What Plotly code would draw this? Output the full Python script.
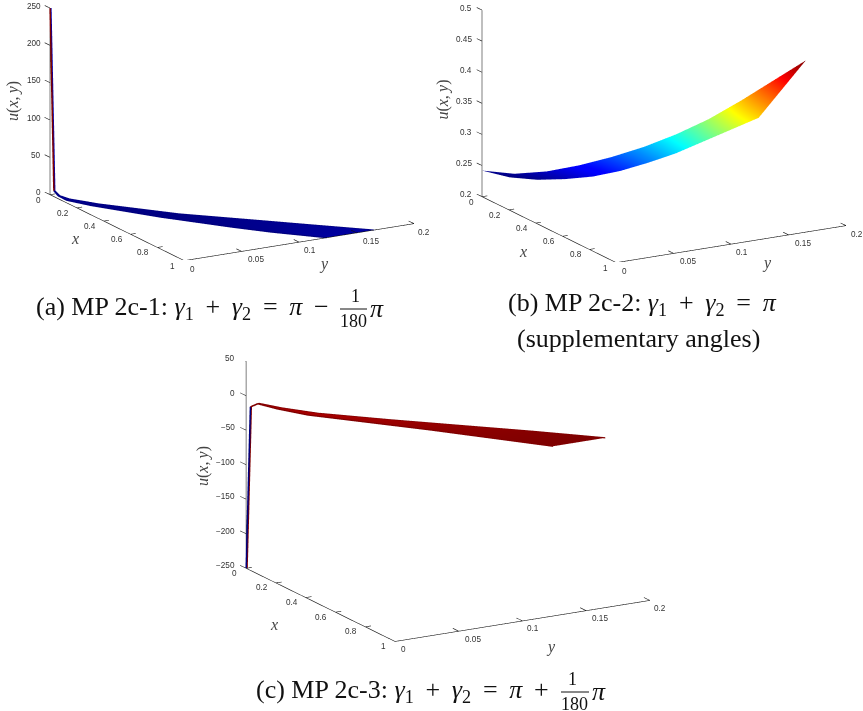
import plotly.graph_objects as go

W, H = 863, 711
JET = [[0, "#00007f"], [0.11, "#0000ff"], [0.125, "#0000ff"], [0.375, "#00ffff"], [0.625, "#ffff00"], [0.875, "#ff0000"], [1, "#7f0000"]]
SER = "Liberation Serif"; SAN = "Liberation Sans"

# --- data ---
x_ticks = [0, 0.2, 0.4, 0.6, 0.8, 1]
y_ticks = [0, 0.05, 0.1, 0.15, 0.2]
y_tick_labels = ["0", "0.05", "0.1", "0.15", "0.2"]

a_x = [0.014, 0.03, 0.06, 0.15, 0.4, 0.66, 0.8, 1.0]
a_ylo = [0.0017, 0.0037, 0.0074, 0.0186, 0.0496, 0.0818, 0.0992, 0.124]
a_yhi = [0.0024, 0.0049, 0.0099, 0.0248, 0.0662, 0.1092, 0.1324, 0.165]
a_zlo = [6, 0, -4, -6, -7, -5.5, -4, 0]
a_zhi = [6, 0, -3, -5.4, -7, -4, -2.5, 0]
a_spike_x = [0, 0.014]
a_spike_z = [250, 6]
a_zticks = [0, 50, 100, 150, 200, 250]

b_x = [0, 0.1, 0.2, 0.3, 0.4, 0.5, 0.6, 0.7, 0.8, 0.9, 1.0]
b_ylo = [0, 0.0124, 0.0248, 0.0372, 0.0496, 0.062, 0.0744, 0.0868, 0.0992, 0.1116, 0.124]
b_yhi = [0, 0.0165, 0.033, 0.0495, 0.066, 0.0825, 0.099, 0.1155, 0.132, 0.1485, 0.165]
b_zlo = [0.242, 0.238, 0.241, 0.249, 0.26, 0.276, 0.296, 0.318, 0.344, 0.37, 0.396]
b_zhi = [0.242, 0.2425, 0.252, 0.2675, 0.2865, 0.3085, 0.3345, 0.3645, 0.4, 0.438, 0.476]
b_zticks = [0.2, 0.25, 0.3, 0.35, 0.4, 0.45, 0.5]

c_x = [0.014, 0.036, 0.1, 0.2, 0.4, 0.6, 0.8, 1.0]
c_ylo = [0.0017, 0.0045, 0.0124, 0.0248, 0.0496, 0.0744, 0.0992, 0.124]
c_yhi = [0.0024, 0.0059, 0.0165, 0.033, 0.066, 0.099, 0.132, 0.165]
c_zlo = [-15, -9, -12, -14, -11, -8, -6, -4]
c_zhi = [-15, -9, -12, -14, -12, -9, -6, -4]
c_spike_x = [0, 0.014]
c_spike_z = [-250, -15]
c_zticks = [-250, -200, -150, -100, -50, 0, 50]
c_ztick_labels = ["\u2212250", "\u2212200", "\u2212150", "\u2212100", "\u221250", "0", "50"]

EYE = (0.833, -0.477, 0.2815)
D = 4.0
AS = 2.11

fig = go.Figure()
annots = {"scene": [], "scene2": [], "scene3": []}
LINE = dict(color="#111111", width=1.2)
ZLINE = dict(color="#555555", width=1.6)


def txt(text, x, y, z, dx, dy, size=8.2, font=SAN, color="#333333", angle=0, anchor="center"):
    return dict(x=x, y=y, z=z, text=text, showarrow=False, xshift=dx, yshift=dy, textangle=angle,
                font=dict(family=font, size=size, color=color), xanchor=anchor, yanchor="middle")


def panel(scene, zr, zticks, zlabels, xs, ylo, yhi, zlo, zhi, cmin, cmax, spike, xlab, ylab, ulab, zdx, edge=None):
    z0, z1 = zr
    zspan = z1 - z0
    fig.add_trace(go.Surface(x=[xs, xs], y=[ylo, yhi], z=[zlo, zhi], surfacecolor=[zlo, zhi], colorscale=JET, cmin=cmin, cmax=cmax,
                             showscale=False, scene=scene, hoverinfo="skip",
                             lighting=dict(ambient=1, diffuse=0, specular=0, fresnel=0, roughness=1)))
    if edge:
        for yy, zz in ((ylo, zlo), (yhi, zhi)):
            fig.add_trace(go.Scatter3d(x=xs, y=yy, z=zz, mode="lines", line=dict(color=edge, width=2.5),
                                       scene=scene, hoverinfo="skip", showlegend=False))
    if spike:
        sx, sz, near, far = spike
        fig.add_trace(go.Scatter3d(x=sx, y=[0, ylo[0]], z=sz, mode="lines", line=dict(color=near, width=3),
                                   scene=scene, hoverinfo="skip", showlegend=False))
        fig.add_trace(go.Scatter3d(x=sx, y=[0.0007, yhi[0]], z=sz, mode="lines", line=dict(color=far, width=3),
                                   scene=scene, hoverinfo="skip", showlegend=False))

    def seg(xx, yy, zz, ln=LINE):
        fig.add_trace(go.Scatter3d(x=xx, y=yy, z=zz, mode="lines", line=ln, scene=scene, hoverinfo="skip", showlegend=False))
    seg([0, 1, 1], [0, 0, 0.2], [z0, z0, z0])
    seg([0, 0], [0, 0], [z0, z1], ZLINE)
    tk = 0.04
    for t in x_ticks:
        seg([t, t], [0, 0.0045], [z0, z0])
    for t in y_ticks:
        seg([1, 1 - tk], [t, t], [z0, z0])
    for t in zticks:
        seg([0, -tk], [0, 0], [t, t])
    A = annots[scene]
    for t in x_ticks:
        s = str(t)
        A.append(txt(s, t, 0, z0, -13.5 if len(s) > 1 else -11, -5.5))
    for t, l in zip(y_ticks, y_tick_labels):
        A.append(txt(l, 1, t, z0, {1: 8.5, 3: 11, 4: 14.5}[len(l)], -8.5))
    for t, l in zip(zticks, zlabels):
        A.append(txt(l, 0, 0, t, zdx, 2, anchor="right"))
    A.append(txt("<i>x</i>", 0.5, 0, z0, xlab[0], -xlab[1], size=16, font=SER, color="#444444"))
    A.append(txt("<i>y</i>", 1, 0.1, z0, ylab[0], -ylab[1], size=16, font=SER, color="#444444"))
    A.append(txt("<i>u</i>(<i>x</i>,\u2009<i>y</i>)", 0, 0, z0 + ulab[0] * zspan, ulab[1], 0, size=16, font=SER, color="#444444", angle=-90))


panel("scene", (0, 250), a_zticks, [str(v) for v in a_zticks], a_x, a_ylo, a_yhi, a_zlo, a_zhi, -8, 250,
      (a_spike_x, a_spike_z, "#7f0000", "#0000b0"), (-41.5, 11), (25, 22), (0.504, -37.3), -7, edge="#00007f")
panel("scene2", (0.2, 0.5), b_zticks, [str(v) for v in b_zticks], b_x, b_ylo, b_yhi, b_zlo, b_zhi, 0.238, 0.476, None,
      (-26, 22), (36, 19), (0.519, -39.3), -8)
panel("scene3", (-250, 50), c_zticks, c_ztick_labels, c_x, c_ylo, c_yhi, c_zlo, c_zhi, -250, -4,
      (c_spike_x, c_spike_z, "#00007f", "#7f0000"), (-46, 20), (29, 27), (0.49, -42), -9, edge="#7f0000")


def scene_layout(O, xv, yv, zv, zr, box, annot, padlo=0.293, padhi=0.12):
    """O: pixel of (0,0,zr[0]); xv/yv/zv: pixel vectors of whole axes; box: domain pixel w,h."""
    xr = (-0.1, 1.1)
    yr = (-0.02, 0.22)
    span = zr[1] - zr[0]
    zrr = (zr[0] - padlo * span, zr[1] + padhi * span)
    fx = (sum(xr) / 2)
    fy = (sum(yr) / 2) / 0.2
    fz = (sum(zrr) / 2 - zr[0]) / span
    cx = O[0] + fx * xv[0] + fy * yv[0] + fz * zv[0]
    cy = O[1] + fx * xv[1] + fy * yv[1] + fz * zv[1]
    w, h = box
    ax = dict(visible=False, showbackground=False, showgrid=False, zeroline=False, showspikes=False)
    return dict(
        domain=dict(x=[(cx - w / 2) / W, (cx + w / 2) / W], y=[1 - (cy + h / 2) / H, 1 - (cy - h / 2) / H]),
        xaxis=dict(range=xr, **ax), yaxis=dict(range=yr, **ax), zaxis=dict(range=zrr, **ax),
        aspectmode="manual",
        aspectratio=dict(x=AS * (xr[1] - xr[0]), y=AS * 0.98 * (yr[1] - yr[0]) / 0.2, z=AS * 0.72 * (zrr[1] - zrr[0]) / span),
        camera=dict(eye=dict(x=EYE[0] * D, y=EYE[1] * D, z=EYE[2] * D), up=dict(x=0, y=0, z=1), center=dict(x=0, y=0, z=0),
                    projection=dict(type="orthographic")),
        annotations=annot, bgcolor="rgba(0,0,0,0)")


def cap(text, x, y, size=26):
    return dict(text=text, x=x / W, y=1 - y / H, xref="paper", yref="paper", xanchor="left", yanchor="middle", showarrow=False,
                font=dict(family=SER, size=size, color="#111111"))


g = "<i>\u03b3</i>"; p = "<i>\u03c0</i>"; t = "\u2009"
eq = f"{g}<sub>1</sub>{t} + {t}{g}<sub>2</sub>{t} = {t}{p}"
annotations = [
    cap(f"(a) MP 2c-1: {eq}{t} \u2212", 34, 308), cap("1", 349, 296, 18), cap("180", 338, 321, 18), cap(p, 368, 308),
    cap(f"(b) MP 2c-2: {eq}", 506, 304), cap("(supplementary angles)", 515, 339),
    cap(f"(c) MP 2c-3: {eq}{t} +", 254, 691), cap("1", 566, 679, 18), cap("180", 559, 704, 18), cap(p, 590, 691),
]
line = dict(color="#111111", width=1)
shapes = [
    dict(type="line", xref="paper", yref="paper", x0=340 / W, x1=367 / W, y0=1 - 309 / H, y1=1 - 309 / H, line=line),
    dict(type="line", xref="paper", yref="paper", x0=561 / W, x1=589 / W, y0=1 - 692 / H, y1=1 - 692 / H, line=line),
]

fig.update_layout(
    width=W, height=H, margin=dict(l=0, r=0, t=0, b=0), paper_bgcolor="white", showlegend=False,
    scene=scene_layout((50, 195), (133, 64), (230, -37), (0, -185), (0, 250), (380, 256), annots["scene"]),
    scene2=scene_layout((482, 196), (134, 66), (230, -37), (0, -185), (0.2, 0.5), (380, 256), annots["scene2"]),
    scene3=scene_layout((247, 568), (146, 73), (255, -42), (0, -206), (-250, 50), (420, 284), annots["scene3"], padlo=0.334, padhi=0.12),
    annotations=annotations, shapes=shapes,
)
fig.write_html("out.html", post_script="document.body.style.margin='0';", config={"displayModeBar": False})
